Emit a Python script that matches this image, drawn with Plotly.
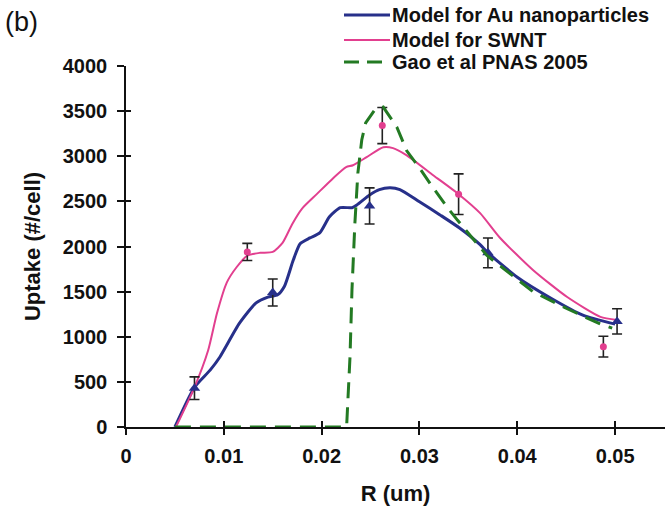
import plotly.graph_objects as go

# Model curve: Au nanoparticles
r_au_model = [0.0050, 0.0070, 0.0086, 0.0096, 0.0116, 0.0133, 0.0145, 0.0155, 0.0162,
              0.0171, 0.0178, 0.0188, 0.0198, 0.0208, 0.0219, 0.0231, 0.0236, 0.0249,
              0.0259, 0.0270, 0.0280, 0.0300, 0.0321, 0.0341, 0.0362, 0.0370, 0.0400,
              0.0434, 0.0467, 0.0500]
uptake_au_model = [0, 440, 630, 776, 1150, 1375, 1440, 1465, 1560, 1850, 2030, 2095,
                   2150, 2330, 2430, 2430, 2460, 2570, 2630, 2650, 2630, 2495, 2350,
                   2205, 2020, 1930, 1660, 1430, 1240, 1140]

# Model curve: SWNT
r_swnt_model = [0.0051, 0.0070, 0.0084, 0.0093, 0.0103, 0.0113, 0.0124, 0.0137, 0.0150,
                0.0160, 0.0170, 0.0180, 0.0195, 0.0212, 0.0225, 0.0232, 0.0246, 0.0263,
                0.0273, 0.0287, 0.0314, 0.0340, 0.0362, 0.0382, 0.0416, 0.0451, 0.0485,
                0.0502]
uptake_swnt_model = [0, 440, 850, 1260, 1600, 1770, 1900, 1930, 1940, 2040, 2250, 2420,
                     2580, 2760, 2880, 2900, 2990, 3100, 3090, 3010, 2790, 2580, 2370,
                     2100, 1740, 1440, 1220, 1185]

# Gao et al. PNAS 2005
r_gao = [0.0050, 0.0225, 0.02257, 0.0229, 0.0231, 0.0234, 0.0237, 0.0241, 0.0245, 0.0254,
         0.0263, 0.0277, 0.0287, 0.0300, 0.0312, 0.0328, 0.0339, 0.0369, 0.0416, 0.0451,
         0.0485, 0.0497]
uptake_gao = [0, 0, 40, 780, 1520, 2260, 2810, 3180, 3370, 3510, 3545, 3320, 3060, 2870,
              2680, 2440, 2290, 1900, 1500, 1310, 1140, 1095]

# Measured points with error bars
r_au_pts = [0.0070, 0.0150, 0.0249, 0.0370, 0.0502]
uptake_au_pts = [430, 1490, 2450, 1930, 1170]
err_au_pts = [125, 150, 200, 165, 140]

r_swnt_pts = [0.0124, 0.0262, 0.0340, 0.0488]
uptake_swnt_pts = [1940, 3340, 2580, 890]
err_swnt_pts = [95, 200, 225, 115]

x_ticks = [0, 0.01, 0.02, 0.03, 0.04, 0.05]
x_ticktext = ["0", "0.01", "0.02", "0.03", "0.04", "0.05"]
y_ticks = [0, 500, 1000, 1500, 2000, 2500, 3000, 3500, 4000]
y_ticktext = ["0", "500", "1000", "1500", "2000", "2500", "3000", "3500", "4000"]

legend_names = ["Model for Au nanoparticles", "Model for SWNT", "Gao et al PNAS 2005"]

BLUE = "#27308a"
PINK = "#e23f8f"
GREEN = "#237a23"
INK = "#111111"
FONT = "Liberation Sans, Arial, sans-serif"

W, H = 665, 514
ML, MR, MT, MB = 126, 0, 66, 87
PW, PH = W - ML - MR, H - MT - MB


def px_x(p):
    return (p - ML) / PW


def px_y(p):
    return (H - MB - p) / PH


fig = go.Figure()

fig.add_trace(go.Scatter(x=r_au_model, y=uptake_au_model, mode="lines",
                         line=dict(color=BLUE, width=3, shape="spline", smoothing=0.6),
                         name=legend_names[0], showlegend=False))
fig.add_trace(go.Scatter(x=r_swnt_model, y=uptake_swnt_model, mode="lines",
                         line=dict(color=PINK, width=2, shape="spline", smoothing=0.6),
                         name=legend_names[1], showlegend=False))
fig.add_trace(go.Scatter(x=r_au_pts, y=uptake_au_pts, mode="markers",
                         marker=dict(symbol="triangle-up", size=10, color=BLUE),
                         error_y=dict(type="data", array=err_au_pts, color="#222222",
                                      thickness=1.6, width=5),
                         showlegend=False))
fig.add_trace(go.Scatter(x=r_swnt_pts, y=uptake_swnt_pts, mode="markers",
                         marker=dict(symbol="circle", size=7, color=PINK),
                         error_y=dict(type="data", array=err_swnt_pts, color="#222222",
                                      thickness=1.6, width=5),
                         showlegend=False))
# dashed curve sits on the overlay axes so it is drawn above the model curves
fig.add_trace(go.Scatter(x=r_gao, y=uptake_gao, mode="lines", xaxis="x2", yaxis="y2",
                         line=dict(color=GREEN, width=3, dash="16px,9px"),
                         name=legend_names[2], showlegend=False))

axis_common = dict(showgrid=False, zeroline=False, color="black",
                   tickfont=dict(family=FONT, size=20, color=INK, weight="bold"))

fig.update_layout(
    width=W, height=H,
    margin=dict(l=ML, r=MR, t=MT, b=MB, autoexpand=False),
    paper_bgcolor="white", plot_bgcolor="white",
    showlegend=False,
    xaxis=dict(range=[0, 0.0551], tickvals=x_ticks, ticktext=x_ticktext,
               ticks="outside", ticklen=6, tickwidth=1.5, tickcolor=INK,
               showline=True, linecolor=INK, linewidth=1.5,
               ticklabelstandoff=4,
               title=dict(text="R (um)", standoff=20,
                          font=dict(family=FONT, size=22, color=INK, weight="bold")),
               **axis_common),
    yaxis=dict(range=[0, 4000], tickvals=y_ticks, ticktext=y_ticktext,
               ticks="outside", ticklen=7, tickwidth=1.5, tickcolor=INK,
               showline=True, linecolor=INK, linewidth=1.5,
               ticklabelstandoff=6,
               title=dict(text="Uptake (#/cell)", standoff=16,
                          font=dict(family=FONT, size=22, color=INK, weight="bold")),
               **axis_common),
    xaxis2=dict(overlaying="x", matches="x", anchor="y2", tickvals=x_ticks,
                ticks="inside", ticklen=6, tickwidth=1.5, tickcolor=INK,
                showticklabels=False, showline=False, showgrid=False, zeroline=False),
    yaxis2=dict(overlaying="y", matches="y", anchor="x2", side="left", tickvals=y_ticks,
                ticks="inside", ticklen=5, tickwidth=1.5, tickcolor=INK,
                showticklabels=False, showline=False, showgrid=False, zeroline=False),
)

# legend key
leg_rows = [15, 40, 62]
leg_x0, leg_x1 = 344, 390
fig.add_shape(type="line", xref="paper", yref="paper",
              x0=px_x(leg_x0), x1=px_x(leg_x1), y0=px_y(leg_rows[0]), y1=px_y(leg_rows[0]),
              line=dict(color=BLUE, width=3))
fig.add_shape(type="line", xref="paper", yref="paper",
              x0=px_x(leg_x0), x1=px_x(leg_x1), y0=px_y(leg_rows[1]), y1=px_y(leg_rows[1]),
              line=dict(color=PINK, width=2))
fig.add_shape(type="line", xref="paper", yref="paper",
              x0=px_x(leg_x0), x1=px_x(384), y0=px_y(leg_rows[2]), y1=px_y(leg_rows[2]),
              line=dict(color=GREEN, width=3, dash="15px,8px"))
for name, row in zip(legend_names, leg_rows):
    fig.add_annotation(text=name, xref="paper", yref="paper", x=px_x(390), y=px_y(row),
                       xanchor="left", yanchor="middle", showarrow=False,
                       font=dict(family=FONT, size=20, color=INK, weight="bold"))

fig.add_annotation(text="(b)", xref="paper", yref="paper", x=px_x(3), y=px_y(22),
                   xanchor="left", yanchor="middle", showarrow=False,
                   font=dict(family=FONT, size=27, color=INK))

fig.write_html("out.html")
